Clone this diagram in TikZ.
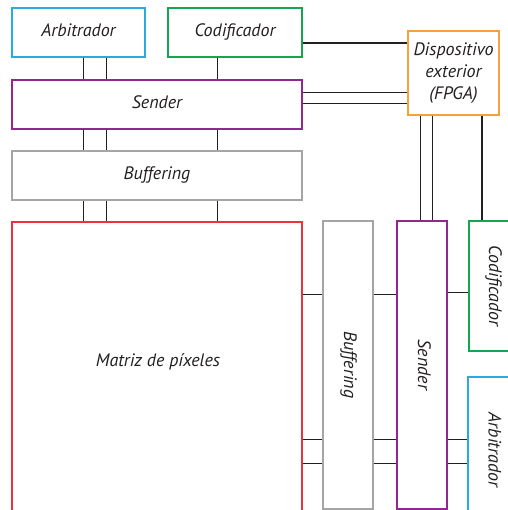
\documentclass[tikz,border=0pt]{standalone}
\usepackage{fontspec}
\setmainfont{PT Sans}

\definecolor{azul}{RGB}{41,171,226}
\definecolor{verde}{RGB}{20,165,80}
\definecolor{naranja}{RGB}{248,160,60}
\definecolor{morado}{RGB}{146,39,143}
\definecolor{gris}{RGB}{165,165,165}
\definecolor{rojo}{RGB}{238,50,60}
\definecolor{tinta}{RGB}{35,31,32}

\begin{document}
\begin{tikzpicture}[x=1pt, y=-1pt, font=\fontsize{18}{22}\selectfont\itshape]

% Set the overall size of the picture
\useasboundingbox (0,0) rectangle (507,510);

% Define styles for boxes and links
\tikzstyle{caja} = [draw, line width=1.2pt, inner sep=0pt, text=tinta, align=center]
\tikzstyle{fila} = [caja, minimum height=49, text height=2ex, text depth=0.4ex]
\tikzstyle{columna} = [caja, rotate=-90, text height=2ex, text depth=0.4ex]
\tikzstyle{enlace} = [draw=tinta, line width=0.9pt]
\tikzstyle{grueso} = [draw=tinta, line width=2.2pt]

% Boxes on the top
\node[fila, draw=azul, minimum width=133] (arb) at (78.5,32.5) {Arbitrador};
\node[fila, draw=verde, minimum width=134] (cod) at (235,32.5) {Codificador};
\node[fila, draw=morado, minimum width=290] (snd) at (157,104.5) {Sender};
\node[fila, draw=gris, minimum width=290] (buf) at (157,175.5) {Buffering};
\node[caja, draw=rojo, minimum width=290, minimum height=296] (mat) at (157,370) {};
\node[text=tinta] (mattxt) at (158,362) {Matriz de píxeles};
\node[caja, draw=naranja, minimum width=91, minimum height=84] (disp) at (453.5,73)
  {Dispositivo\\exterior\\(FPGA)};

% Boxes on the right, turned
\node[columna, draw=gris, minimum width=288, minimum height=50] (bufv) at (348,365) {Buffering};
\node[columna, draw=morado, minimum width=288, minimum height=50] (sndv) at (422,365) {Sender};
\node[columna, draw=verde, minimum width=130, minimum height=48] (codv) at (493,286) {Codificador};
\node[columna, draw=azul, minimum width=146, minimum height=49] (arbv) at (492.5,450) {Arbitrador};

% Where the links run
\coordinate (v1) at (83,0);
\coordinate (v2) at (106,0);
\coordinate (v3) at (217,0);
\coordinate (v4) at (420,0);
\coordinate (v5) at (432,0);
\coordinate (v6) at (482,0);
\coordinate (h0) at (0,43);
\coordinate (h1) at (0,92);
\coordinate (h2) at (0,103);
\coordinate (k1) at (0,294);
\coordinate (k2) at (0,439);
\coordinate (k3) at (0,463);
\coordinate (k4) at (0,292);

% Links of the left column
\foreach \c in {v1,v2}
  \draw[enlace] (arb.south -| \c) -- (snd.north -| \c);
\draw[enlace] (cod.south -| v3) -- (snd.north -| v3);
\foreach \c in {v1,v2,v3}{
  \draw[enlace] (snd.south -| \c) -- (buf.north -| \c);
  \draw[enlace] (buf.south -| \c) -- (mat.north -| \c);
}

% Links of the right side
\foreach \k in {k1,k2,k3}{
  \draw[enlace] (mat.east |- \k) -- (bufv.south |- \k);
  \draw[enlace] (bufv.north |- \k) -- (sndv.south |- \k);
}
\draw[enlace] (sndv.north |- k4) -- (codv.south |- k4);
\foreach \k in {k2,k3}
  \draw[enlace] (sndv.north |- \k) -- (arbv.south |- \k);

% Links to the external device
\draw[grueso] (cod.east |- h0) -- (disp.west |- h0);
\foreach \h in {h1,h2}
  \draw[enlace] (snd.east |- \h) -- (disp.west |- \h);
\foreach \c in {v4,v5}
  \draw[enlace] (disp.south -| \c) -- (sndv.west -| \c);
\draw[grueso] (disp.south -| v6) -- (codv.west -| v6);

\end{tikzpicture}
\end{document}
